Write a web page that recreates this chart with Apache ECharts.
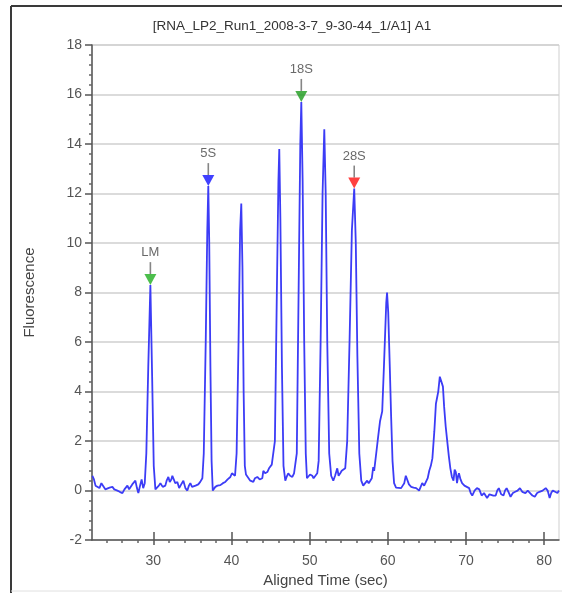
<!DOCTYPE html>
<html><head><meta charset="utf-8">
<script src="https://cdn.jsdelivr.net/npm/echarts@6/dist/echarts.min.js"></script>
<style>html,body{margin:0;padding:0;background:#fff}#c{width:562px;height:593px}</style>
</head><body><div id="c"></div>
<script>
// ---- data ----
const timeSec = [
22.2,22.4,22.6,22.84,23.1,23.35,23.6,23.85,24.1,24.4,24.76,25.0,25.2,25.4,25.7,26.04,26.3,26.68,26.9,27.06,27.3,27.5,27.7,27.9,28.08,28.3,28.5,28.7,28.9,
29.1,29.35,29.62,29.85,30.05,30.26,30.5,30.7,30.9,31.2,31.53,31.7,31.92,32.1,32.3,32.43,32.56,32.8,33.07,33.3,33.45,33.65,33.84,34.1,34.35,34.55,34.73,34.95,35.12,35.4,35.75,36.0,36.27,
36.45,36.7,36.9,37.03,37.15,37.3,37.45,37.6,37.93,38.2,38.57,38.9,39.2,39.5,39.85,40.05,40.23,40.45,
40.65,40.9,41.1,41.25,41.4,41.55,41.7,41.85,42.1,42.4,42.6,42.79,43.0,43.3,43.6,43.94,44.07,44.3,44.58,44.8,44.96,45.15,45.35,
45.55,45.8,46.0,46.11,46.25,46.45,46.65,46.88,47.05,47.26,47.5,47.78,48.0,48.16,
48.35,48.6,48.8,48.93,49.1,49.3,49.5,49.65,49.82,50.05,50.33,50.5,50.72,50.97,
51.15,51.4,51.65,51.87,52.05,52.25,52.5,52.75,53.02,53.25,53.53,53.7,53.91,54.1,54.3,54.55,
54.8,55.1,55.4,55.7,55.9,56.1,56.35,56.6,56.85,57.1,57.36,57.55,57.74,57.95,58.13,58.25,58.38,
58.55,58.77,59.0,59.28,59.5,59.65,59.8,59.9,60.05,60.25,60.42,60.6,60.8,61.05,61.3,61.7,61.9,62.1,62.3,62.48,62.7,62.99,63.3,63.63,64.0,64.2,64.4,64.65,64.9,
65.1,65.3,65.5,65.7,65.95,66.15,66.3,66.45,66.65,66.8,66.95,67.05,67.2,67.4,67.6,67.8,68.0,68.2,68.4,68.55,68.7,68.85,69.0,69.1,69.3,69.5,69.8,70.1,70.4,
70.6,70.8,71.1,71.4,71.7,72.0,72.3,72.7,73.0,73.2,73.5,73.8,74.0,74.2,74.5,74.8,75.0,75.2,75.5,75.7,76.0,76.3,76.6,76.9,77.2,77.6,77.9,78.2,78.5,78.8,79.1,79.4,79.8,80.2,80.45,80.7,80.9,81.1,81.4,81.7,81.9
];
const fluorescence = [
0.6,0.45,0.2,0.15,0.1,0.3,0.25,0.05,0.0,0.12,0.15,0.05,0.1,0.0,-0.05,-0.1,0.05,0.2,0.05,0.1,0.25,0.3,0.4,0.1,-0.1,0.2,0.45,0.1,0.3,
1.5,5.0,8.3,4.5,1.0,0.05,0.1,0.2,0.3,0.15,0.2,0.4,0.55,0.35,0.45,0.6,0.55,0.3,0.35,0.1,0.05,0.3,0.4,0.1,0.0,0.2,0.3,0.15,0.15,0.2,0.25,0.35,0.5,
1.5,6.0,10.5,12.3,10.0,5.0,1.2,0.0,0.15,0.2,0.22,0.3,0.35,0.45,0.55,0.7,0.75,0.6,
1.5,6.0,10.5,11.6,9.0,4.0,1.0,0.65,0.6,0.4,0.45,0.35,0.5,0.55,0.45,0.5,0.8,0.7,0.75,0.9,0.95,1.05,1.1,
2.0,8.0,12.5,13.8,11.0,5.0,1.0,0.4,0.55,0.7,0.6,0.55,0.7,0.75,
1.5,8.5,14.0,15.7,12.5,6.0,1.5,0.5,0.5,0.65,0.6,0.5,0.55,0.7,
1.2,6.0,12.0,14.6,12.0,6.0,1.5,0.6,0.4,0.6,0.9,0.6,0.7,0.8,0.75,0.9,
2.0,6.0,10.5,12.2,10.0,5.5,1.5,0.4,0.2,0.3,0.4,0.3,0.3,0.5,0.95,0.8,0.8,
1.6,2.2,2.8,3.2,5.0,6.3,7.6,8.0,7.2,5.0,3.0,1.2,0.3,0.12,0.1,0.1,0.2,0.3,0.6,0.55,0.25,0.15,0.12,0.1,0.0,0.15,0.3,0.2,0.15,
0.5,0.8,1.0,1.3,2.4,3.5,3.75,4.0,4.6,4.55,4.3,4.2,3.4,2.6,2.0,1.4,0.9,0.55,0.4,0.85,0.75,0.3,0.6,0.7,0.45,0.3,0.2,0.15,0.1,
-0.1,-0.2,0.0,0.1,0.05,-0.2,-0.1,-0.3,-0.15,-0.1,-0.2,-0.2,0.0,0.1,-0.15,-0.2,0.0,0.1,-0.1,-0.25,-0.1,-0.05,0.0,0.1,-0.05,-0.1,0.0,-0.1,-0.2,-0.25,-0.1,-0.05,0.0,0.1,0.0,-0.3,-0.1,0.0,-0.05,-0.1,0.0
];
const markerNames = ['LM', '5S', '18S', '28S'];
const markerTimes = [29.62, 37.03, 48.93, 55.7];
const markerValues = [8.3, 12.3, 15.7, 12.2];
const xTickLabels = [30, 40, 50, 60, 70, 80];
const xMinorTicks = [24, 26, 28, 32, 34, 36, 38, 42, 44, 46, 48, 52, 54, 56, 58, 62, 64, 66, 68, 72, 74, 76, 78, 82];
const titleText = '[RNA_LP2_Run1_2008-3-7_9-30-44_1/A1] A1';

// ---- styles ----
const markerColor = { 'LM': '#1fae1f', '5S': '#1010ff', '18S': '#1c9a1c', '28S': '#ff1010' };
const FONT = 'Liberation Sans, Arial, sans-serif';
const X_MIN = 22.15, X_MAX = 81.9;

const traceData = timeSec.map((t, i) => [t, fluorescence[i]]);
const markerData = markerNames.map((n, i) => ({ name: n, value: [markerTimes[i], markerValues[i]], itemStyle: { color: markerColor[n] } }));
const stemData = markerNames.map((n, i) => ({ name: n, value: [markerTimes[i], markerValues[i]] }));

const chart = echarts.init(document.getElementById('c'), null, { renderer: 'canvas' });
const baseX = { type: 'value', min: X_MIN, max: X_MAX, gridIndex: 0, position: 'bottom', offset: 0, splitLine: { show: false } };
chart.setOption({
  animation: false,
  backgroundColor: '#fff',
  title: {
    text: titleText, left: 287, top: 14, textAlign: 'center',
    textStyle: { fontFamily: FONT, fontSize: 13.5, fontWeight: 'normal', color: '#333' }
  },
  grid: { left: 92, top: 45, right: 3, bottom: 52, show: true, borderColor: '#cfcfcf', borderWidth: 1, containLabel: false },
  xAxis: [
    Object.assign({}, baseX, {
      name: 'Aligned Time (sec)', nameLocation: 'middle', nameGap: 31,
      nameTextStyle: { fontFamily: FONT, fontSize: 15, color: '#444' },
      axisLine: { show: true, onZero: false, lineStyle: { color: '#555', width: 1.5 } },
      axisTick: { show: true, customValues: xTickLabels, length: 5, lineStyle: { color: '#555', width: 1.5 } },
      axisLabel: { show: true, customValues: xTickLabels, fontFamily: FONT, fontSize: 14, color: '#555', margin: 14 }
    }),
    Object.assign({}, baseX, {
      axisLine: { show: false, onZero: false },
      axisTick: { show: true, inside: true, customValues: xTickLabels, length: 8, lineStyle: { color: '#555', width: 1.5 } },
      axisLabel: { show: false }
    }),
    Object.assign({}, baseX, {
      axisLine: { show: false, onZero: false },
      axisTick: { show: true, inside: false, customValues: xMinorTicks, length: 3, lineStyle: { color: '#666', width: 1.5 } },
      axisLabel: { show: false }
    })
  ],
  yAxis: {
    type: 'value', min: -2, max: 18, interval: 2,
    name: 'Fluorescence', nameLocation: 'middle', nameGap: 55,
    nameTextStyle: { fontFamily: FONT, fontSize: 15, color: '#444' },
    axisLine: { show: true, onZero: false, lineStyle: { color: '#555', width: 1.5 } },
    axisTick: { show: true, length: 7, lineStyle: { color: '#555', width: 1.5 } },
    minorTick: { show: true, splitNumber: 5, length: 3, lineStyle: { color: '#666', width: 1.5 } },
    axisLabel: { fontFamily: FONT, fontSize: 14, color: '#555', margin: 10 },
    splitLine: { show: true, lineStyle: { color: '#cfcfcf', width: 1.5 } }
  },
  series: [
    {
      type: 'line', name: 'trace', data: traceData, xAxisIndex: 0, showSymbol: false, symbol: 'none',
      lineStyle: { color: '#3c3cf6', width: 1.8 }, z: 2
    },
    {
      type: 'scatter', name: 'stems', data: stemData, xAxisIndex: 0,
      symbol: 'rect', symbolSize: [1.6, 12], symbolOffset: [0, -17],
      itemStyle: { color: '#666' }, z: 4,
      label: { show: true, position: 'top', distance: 3, formatter: p => p.name, fontFamily: FONT, fontSize: 13, color: '#444' }
    },
    {
      type: 'scatter', name: 'markers', data: markerData, xAxisIndex: 0,
      symbol: 'path://M0,0L10,0L5,9Z', symbolSize: [12, 11], symbolOffset: [0, '-50%'], z: 5
    }
  ],
  graphic: [
    { type: 'line', shape: { x1: 11, y1: 6, x2: 562, y2: 6 }, style: { stroke: '#3a3a3a', lineWidth: 2 } },
    { type: 'line', shape: { x1: 11, y1: 6, x2: 11, y2: 593 }, style: { stroke: '#3a3a3a', lineWidth: 2 } },
    { type: 'line', shape: { x1: 11, y1: 591, x2: 562, y2: 591 }, style: { stroke: '#e0e0e0', lineWidth: 1 } }
  ]
});
</script></body></html>
